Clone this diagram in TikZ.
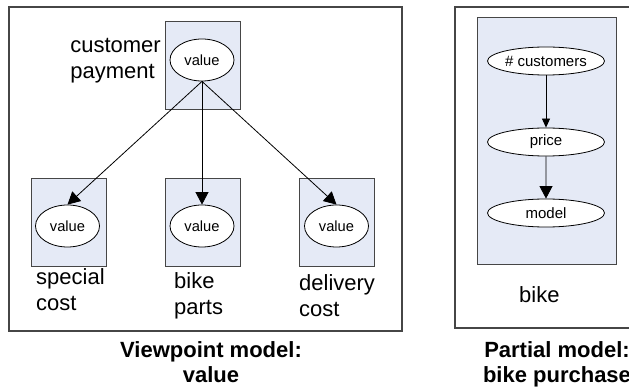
\documentclass[tikz,border=0pt]{standalone}
\usepackage{fontspec}
\setmainfont{Liberation Sans}
\usepackage{tikz}
\usetikzlibrary{trees, arrows.meta, positioning, shapes.geometric}
\definecolor{panelblue}{RGB}{229,234,246}
\definecolor{framegray}{RGB}{70,70,70}

\tikzset{
  modelframe/.style={rectangle, draw=framegray, line width=1.2pt, inner sep=0pt, outer sep=0pt},
  varbox/.style={rectangle, draw=framegray, fill=panelblue, line width=0.9pt, inner sep=0pt, outer sep=0pt},
  valnode/.style={ellipse, draw=black, fill=white, line width=0.8pt, inner sep=0pt,
    minimum width=64pt, minimum height=42pt, font=\fontsize{14.7pt}{17pt}\selectfont},
  chainnode/.style={ellipse, draw=black, fill=white, line width=0.8pt, inner sep=0pt,
    minimum width=117pt, minimum height=28pt, font=\fontsize{15pt}{18pt}\selectfont},
  biglabel/.style={inner sep=0pt, align=left, font=\fontsize{22pt}{26pt}\selectfont},
  modelcaption/.style={inner sep=0pt, align=center, font=\bfseries\fontsize{22pt}{25pt}\selectfont}
}

\begin{document}
\begin{tikzpicture}[x=1pt, y=-1pt,
    edge from parent/.style={draw, line width=0.8pt, -{Triangle[length=12.5pt, width=13pt]}},
    edge from parent path={(\tikzparentnode.south) -- (\tikzchildnode.north)}]
  \useasboundingbox (0,0) rectangle (629,387);

  % frames
  \node[modelframe, minimum width=393pt, minimum height=324pt] (viewframe) at (205.5,169) {};
  \node[modelframe, minimum width=205pt, minimum height=321pt] (partframe) at (557.5,167.5) {};

  % variable boxes
  \node[varbox, minimum width=75pt, minimum height=88pt] (paybox) at (202.5,65) {};
  \node[varbox, minimum width=75pt, minimum height=88pt] (specialbox) at (68.5,222) {};
  \node[varbox, minimum width=75pt, minimum height=88pt] (partsbox) at (202.5,222) {};
  \node[varbox, minimum width=75pt, minimum height=88pt] (deliverybox) at (336.5,222) {};
  \node[varbox, minimum width=139pt, minimum height=247pt] (bikebox) at (546.5,140.5) {};

  % viewpoint model
  \begin{scope}[level distance=166pt, sibling distance=134.5pt]
    \node[valnode] (payval) at (202,60) {value}
      child {node[valnode] (specialval) {value}}
      child {node[valnode] (partsval) {value}}
      child {node[valnode] (deliveryval) {value}};
  \end{scope}

  % partial model
  \node[chainnode] (custval) at (546,61) {\# customers}
    child[level distance=81pt] {
      node[chainnode] (priceval) {price}
        child[level distance=71pt] {
          node[chainnode] (modelval) {model}
          edge from parent[-{Triangle[length=12.5pt, width=13pt]}]
        }
      edge from parent[-{Triangle[length=9pt, width=8pt]}]
    };

  % labels
  \node[biglabel, anchor=north east] (paylabel) at (161,38) {customer\\payment};
  \node[biglabel, anchor=north west] (speciallabel) at (36,268) {special\\cost};
  \node[biglabel, anchor=north west] (partslabel) at (174,272) {bike\\parts};
  \node[biglabel, anchor=north west] (deliverylabel) at (299,274) {delivery\\cost};
  \node[biglabel, anchor=north west] (bikelabel) at (519,286) {bike};

  \node[modelcaption, anchor=north] (viewcaption) at (211,341) {Viewpoint model:\\value};
  \node[modelcaption, anchor=north] (partcaption) at (557,341) {Partial model:\\bike purchase};
\end{tikzpicture}
\end{document}
